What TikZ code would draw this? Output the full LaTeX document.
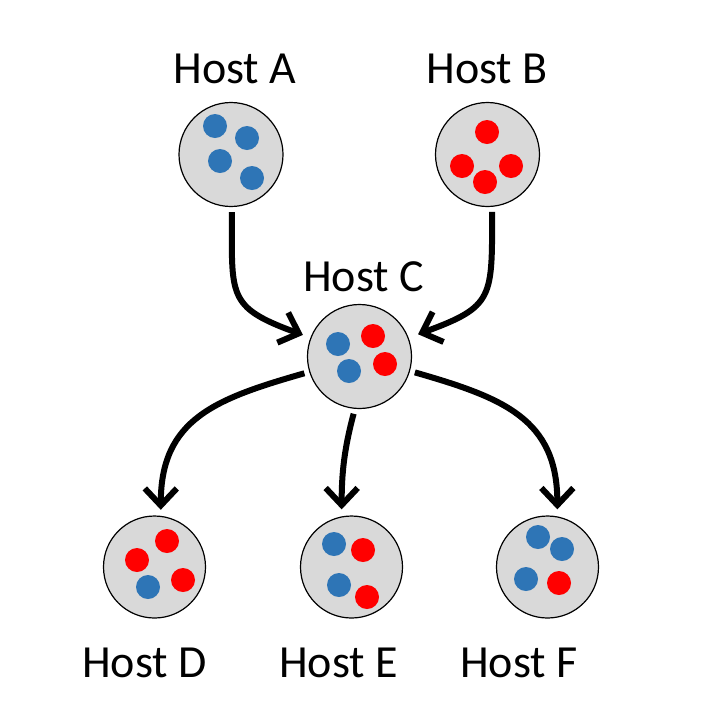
\documentclass[tikz,border=0pt]{standalone}
\usepackage{fontspec}
\setmainfont{Carlito}
\usetikzlibrary{arrows.meta}
\definecolor{dotblue}{HTML}{2E75B6}
\definecolor{dotred}{HTML}{FF0000}
\definecolor{hostfill}{HTML}{D9D9D9}
\begin{document}
\begin{tikzpicture}[x=1pt,y=-1pt,
  host/.style={circle,draw=black,line width=1.2pt,fill=hostfill,minimum size=104pt,inner sep=0pt},
  lab/.style={anchor=base,inner sep=0pt,font=\fontsize{46pt}{50pt}\selectfont},
  arr/.style={line width=6pt,-{Straight Barb[length=17pt,width=32pt]}},
  bdot/.style={fill=dotblue},
  rdot/.style={fill=dotred}]
\useasboundingbox (0,0) rectangle (725,716);
% hosts
\node[host] (A) at (231,154.5) {};
\node[host] (B) at (487.5,154.5) {};
\node[host] (C) at (359.5,356.5) {};
\node[host,minimum size=102pt] (D) at (154.5,567) {};
\node[host,minimum size=102pt] (E) at (351.5,567) {};
\node[host,minimum size=102pt] (F) at (547.5,567) {};
% labels
\node[lab] (LA) at (235,83) {Host A};
\node[lab] (LB) at (487,83) {Host B};
\node[lab] (LC) at (363.5,291) {Host C};
\node[lab] (LD) at (144.5,677) {Host D};
\node[lab] (LE) at (338.5,677) {Host E};
\node[lab] (LF) at (519,677) {Host F};
% dots A
\fill[bdot] (215,126) circle[radius=12pt];
\fill[bdot] (247,138) circle[radius=12pt];
\fill[bdot] (220,161) circle[radius=12pt];
\fill[bdot] (252,178) circle[radius=12pt];
% dots B
\fill[rdot] (487,132) circle[radius=12pt];
\fill[rdot] (462,166) circle[radius=12pt];
\fill[rdot] (511,166) circle[radius=12pt];
\fill[rdot] (485,182) circle[radius=12pt];
% dots C
\fill[bdot] (338,344) circle[radius=12pt];
\fill[bdot] (349,371) circle[radius=12pt];
\fill[rdot] (373,336) circle[radius=12pt];
\fill[rdot] (385,364) circle[radius=12pt];
% dots D
\fill[rdot] (167,541) circle[radius=12pt];
\fill[rdot] (137,560) circle[radius=12pt];
\fill[bdot] (148,587) circle[radius=12pt];
\fill[rdot] (183,580) circle[radius=12pt];
% dots E
\fill[bdot] (334,544) circle[radius=12pt];
\fill[rdot] (363,550) circle[radius=12pt];
\fill[bdot] (339,585) circle[radius=12pt];
\fill[rdot] (367,597) circle[radius=12pt];
% dots F
\fill[bdot] (538,537) circle[radius=12pt];
\fill[bdot] (562,549) circle[radius=12pt];
\fill[bdot] (526,579) circle[radius=12pt];
\fill[rdot] (559,583) circle[radius=12pt];
% arrows
\draw[arr,shorten <=5pt,shorten >=8pt] (A.-89) to[out=-90,in=160,looseness=1.5] (C.159);
\draw[arr,shorten <=5pt,shorten >=10pt] (B.-85) to[out=-90,in=20,looseness=1.5] (C.21);
\draw[arr,shorten <=5pt,shorten >=6pt] (C.197) to[out=196,in=90,looseness=1.2] (D.83);
\draw[arr,shorten <=5pt,shorten >=7pt] (C.265) to[out=255,in=90] (E.101);
\draw[arr,shorten <=5pt,shorten >=7pt] (C.-16) to[out=-16,in=90,looseness=1.2] (F.79);
\end{tikzpicture}
\end{document}
